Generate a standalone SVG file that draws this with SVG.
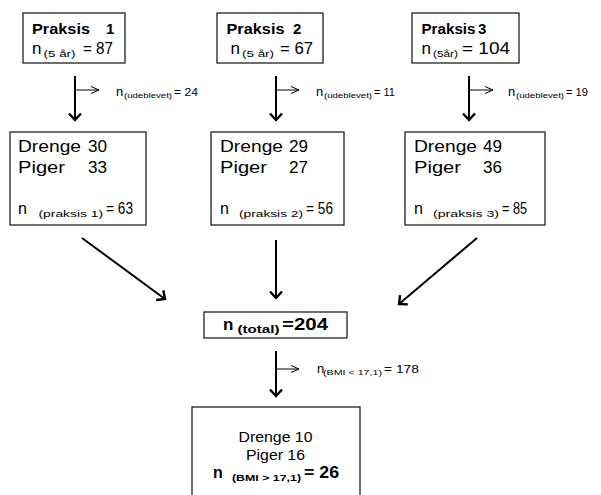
<svg xmlns="http://www.w3.org/2000/svg" width="601" height="495" viewBox="0 0 601 495">
<style>
text{font-family:"Liberation Sans",Arial,sans-serif;fill:#000}
.b{font-weight:bold}
.box{fill:#fff;stroke:#222;stroke-width:1.3}
.main{stroke:#000;stroke-width:2;fill:none;marker-end:url(#ah)}
.br{stroke:#000;stroke-width:1;fill:none;marker-end:url(#ah2)}
</style>
<defs>
<marker id="ah" markerUnits="userSpaceOnUse" markerWidth="16" markerHeight="16" refX="0" refY="0" viewBox="-10 -8 12 16" orient="auto" overflow="visible">
<path d="M-6.5,-6 L0,0 L-6.5,6" fill="none" stroke="#000" stroke-width="2.4"/>
</marker>
<marker id="ah2" markerUnits="userSpaceOnUse" markerWidth="12" markerHeight="10" refX="0" refY="0" viewBox="-10 -5 12 10" orient="auto" overflow="visible">
<path d="M-8,-3.5 L0,0 L-8,3.5" fill="none" stroke="#000" stroke-width="1"/>
</marker>
</defs>

<g id="connectors">
<line class="main" x1="75" y1="76" x2="75" y2="120"/>
<line class="br" x1="75" y1="90" x2="99" y2="90"/>
<line class="main" x1="276" y1="76" x2="276" y2="120"/>
<line class="br" x1="276" y1="90" x2="299" y2="90"/>
<line class="main" x1="469" y1="76" x2="469" y2="120"/>
<line class="br" x1="469" y1="90" x2="493" y2="90"/>
<line class="main" x1="82" y1="238" x2="165" y2="299"/>
<line class="main" x1="276" y1="240" x2="276" y2="298"/>
<line class="main" x1="477" y1="238" x2="399" y2="304"/>
<line class="main" x1="276" y1="351" x2="276" y2="396"/>
<line class="br" x1="276" y1="369" x2="299" y2="369"/>
</g>

<g id="labels">
<text x="116" y="96" font-size="13">n</text>
<text x="124" y="98" font-size="8" textLength="48" lengthAdjust="spacingAndGlyphs">(udeblevet)</text>
<text x="174" y="96" font-size="10.5" textLength="24" lengthAdjust="spacingAndGlyphs">= 24</text>
<text x="316" y="96" font-size="13">n</text>
<text x="324" y="98" font-size="8" textLength="48" lengthAdjust="spacingAndGlyphs">(udeblevet)</text>
<text x="374" y="96" font-size="10.5" textLength="21" lengthAdjust="spacingAndGlyphs">= 11</text>
<text x="508" y="96" font-size="13">n</text>
<text x="516" y="98" font-size="8" textLength="48" lengthAdjust="spacingAndGlyphs">(udeblevet)</text>
<text x="566" y="96" font-size="10.5" textLength="22" lengthAdjust="spacingAndGlyphs">= 19</text>
<text x="317" y="373" font-size="13">n</text>
<text x="323" y="375" font-size="8" textLength="59" lengthAdjust="spacingAndGlyphs">(BMI &lt; 17,1)</text>
<text x="384" y="373" font-size="11.5" textLength="35" lengthAdjust="spacingAndGlyphs">= 178</text>
</g>

<g id="praksis1">
<rect class="box" x="23" y="13" width="102" height="50"/>
<text class="b" x="32" y="33.5" font-size="15" textLength="58" lengthAdjust="spacingAndGlyphs">Praksis</text>
<text class="b" x="106" y="33.5" font-size="15">1</text>
<text x="32" y="53.5" font-size="17">n</text>
<text x="43.5" y="56.5" font-size="9.5" textLength="32" lengthAdjust="spacingAndGlyphs">(5 år)</text>
<text x="83" y="53.5" font-size="17" textLength="30" lengthAdjust="spacingAndGlyphs">= 87</text>
</g>

<g id="praksis2">
<rect class="box" x="217" y="13" width="106" height="50"/>
<text class="b" x="226.5" y="33.5" font-size="15" textLength="58" lengthAdjust="spacingAndGlyphs">Praksis</text>
<text class="b" x="293" y="33.5" font-size="15">2</text>
<text x="230.5" y="53.5" font-size="17">n</text>
<text x="242" y="56.5" font-size="9.5" textLength="32" lengthAdjust="spacingAndGlyphs">(5 år)</text>
<text x="280" y="53.5" font-size="17" textLength="33" lengthAdjust="spacingAndGlyphs">= 67</text>
</g>

<g id="praksis3">
<rect class="box" x="412" y="13" width="107" height="50"/>
<text class="b" x="421.5" y="33.5" font-size="15" textLength="54" lengthAdjust="spacingAndGlyphs">Praksis</text>
<text class="b" x="478" y="33.5" font-size="15">3</text>
<text x="421.5" y="53.5" font-size="17">n</text>
<text x="433" y="56.5" font-size="9.5" textLength="25" lengthAdjust="spacingAndGlyphs">(5år)</text>
<text x="462" y="53.5" font-size="17" textLength="48" lengthAdjust="spacingAndGlyphs">= 104</text>
</g>

<g id="gruppe1">
<rect class="box" x="10" y="132" width="136" height="93"/>
<text x="18" y="152" font-size="16" textLength="63" lengthAdjust="spacingAndGlyphs">Drenge</text>
<text x="88" y="152" font-size="16" textLength="19" lengthAdjust="spacingAndGlyphs">30</text>
<text x="18" y="173" font-size="16" textLength="47" lengthAdjust="spacingAndGlyphs">Piger</text>
<text x="88" y="173" font-size="16" textLength="19" lengthAdjust="spacingAndGlyphs">33</text>
<text x="18" y="214" font-size="16">n</text>
<text x="38.5" y="217" font-size="9.5" textLength="64.5" lengthAdjust="spacingAndGlyphs">(praksis 1)</text>
<text x="106" y="214" font-size="17" textLength="27" lengthAdjust="spacingAndGlyphs">= 63</text>
</g>

<g id="gruppe2">
<rect class="box" x="211" y="132" width="133" height="93"/>
<text x="220" y="152" font-size="16" textLength="63" lengthAdjust="spacingAndGlyphs">Drenge</text>
<text x="289" y="152" font-size="16" textLength="19" lengthAdjust="spacingAndGlyphs">29</text>
<text x="220" y="173" font-size="16" textLength="47" lengthAdjust="spacingAndGlyphs">Piger</text>
<text x="289" y="173" font-size="16" textLength="19" lengthAdjust="spacingAndGlyphs">27</text>
<text x="220" y="214" font-size="16">n</text>
<text x="239" y="217" font-size="9.5" textLength="64" lengthAdjust="spacingAndGlyphs">(praksis 2)</text>
<text x="306" y="214" font-size="17" textLength="27" lengthAdjust="spacingAndGlyphs">= 56</text>
</g>

<g id="gruppe3">
<rect class="box" x="405" y="132" width="140" height="93"/>
<text x="414" y="152" font-size="16" textLength="63" lengthAdjust="spacingAndGlyphs">Drenge</text>
<text x="483" y="152" font-size="16" textLength="19" lengthAdjust="spacingAndGlyphs">49</text>
<text x="414" y="173" font-size="16" textLength="47" lengthAdjust="spacingAndGlyphs">Piger</text>
<text x="483" y="173" font-size="16" textLength="19" lengthAdjust="spacingAndGlyphs">36</text>
<text x="414" y="214" font-size="16">n</text>
<text x="433" y="217" font-size="9.5" textLength="66" lengthAdjust="spacingAndGlyphs">(praksis 3)</text>
<text x="502" y="214" font-size="17" textLength="25" lengthAdjust="spacingAndGlyphs">= 85</text>
</g>

<g id="total">
<rect class="box" x="204" y="312" width="143" height="26"/>
<text class="b" x="223" y="329.5" font-size="17">n</text>
<text class="b" x="237.5" y="333" font-size="10.5" textLength="42" lengthAdjust="spacingAndGlyphs">(total)</text>
<text class="b" x="282" y="329.5" font-size="17" textLength="46" lengthAdjust="spacingAndGlyphs">=204</text>
</g>

<g id="bmi">
<rect class="box" x="192" y="407" width="168" height="100"/>
<text x="238.5" y="442" font-size="14" textLength="74" lengthAdjust="spacingAndGlyphs">Drenge 10</text>
<text x="246" y="460" font-size="14" textLength="59" lengthAdjust="spacingAndGlyphs">Piger 16</text>
<text class="b" x="213" y="478" font-size="16">n</text>
<text class="b" x="232" y="481" font-size="9.5" textLength="69" lengthAdjust="spacingAndGlyphs">(BMI &gt; 17,1)</text>
<text class="b" x="304" y="478" font-size="17" textLength="35" lengthAdjust="spacingAndGlyphs">= 26</text>
</g>
</svg>
